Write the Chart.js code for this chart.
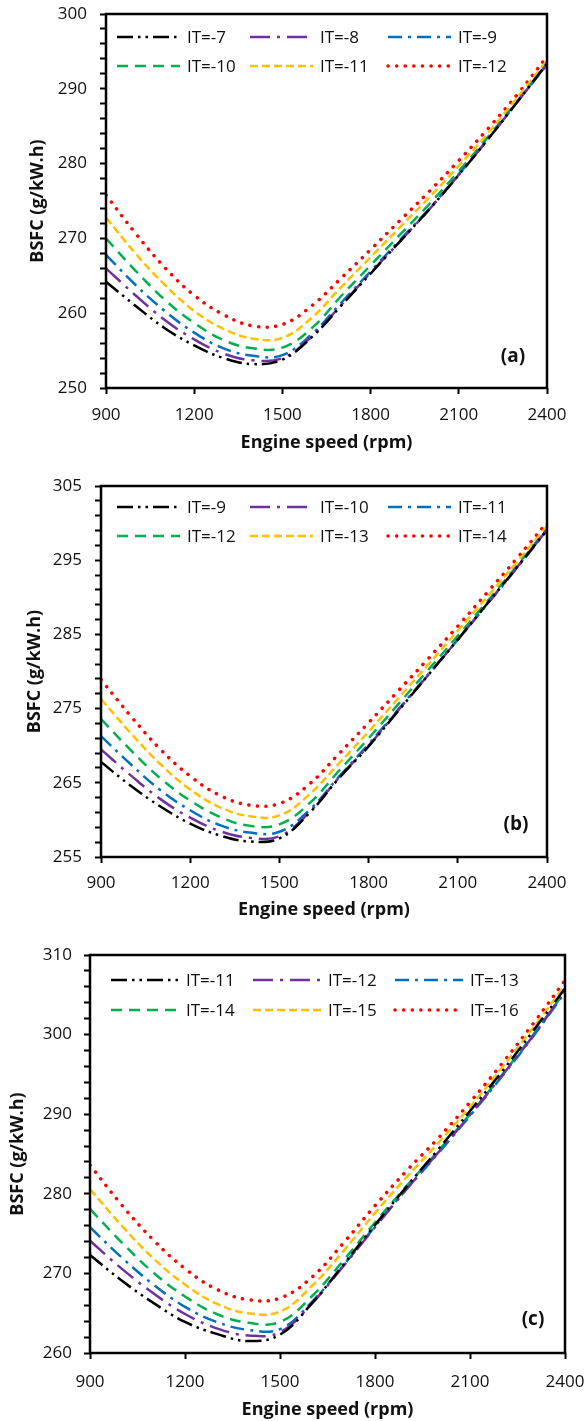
<!DOCTYPE html>
<html lang="en">
<head>
<meta charset="utf-8">
<title>BSFC vs engine speed</title>
<script src="https://cdn.jsdelivr.net/npm/chart.js@4.4.1/dist/chart.umd.min.js"></script>
<style>
  body { margin: 0; background: #fff; }
  .panel { position: absolute; left: 0; }
  #pa { top: 0; }
  #pb { top: 470px; }
  #pc { top: 940px; }
</style>
</head>
<body>
<canvas id="pa" class="panel" width="588" height="460"></canvas>
<canvas id="pb" class="panel" width="588" height="460"></canvas>
<canvas id="pc" class="panel" width="588" height="481"></canvas>
<script>
// engine speed (rpm), same for all panels
const rpm = [900, 1000, 1100, 1200, 1300, 1400, 1500, 1600, 1700, 1800, 1900, 2000, 2100, 2200, 2300, 2400];

// panel (a) - BSFC g/kW.h
const labelsA = ['IT=-7', 'IT=-8', 'IT=-9', 'IT=-10', 'IT=-11', 'IT=-12'];
const a7  = [264.2, 261.0, 258.0, 255.7, 254.0, 253.2, 253.8, 256.8, 261.0, 265.3, 269.6, 273.9, 278.5, 283.3, 288.3, 293.4];
const a8  = [266.0, 262.4, 259.1, 256.5, 254.6, 253.7, 254.0, 256.9, 261.1, 265.4, 269.6, 273.9, 278.5, 283.3, 288.3, 293.3];
const a9  = [267.8, 263.8, 260.3, 257.4, 255.3, 254.3, 254.4, 257.2, 261.4, 265.6, 269.8, 274.0, 278.6, 283.3, 288.3, 293.2];
const a10 = [270.0, 265.7, 261.8, 258.7, 256.4, 255.3, 255.4, 258.0, 262.3, 266.4, 270.5, 274.6, 279.0, 283.6, 288.4, 293.3];
const a11 = [272.8, 268.0, 263.8, 260.3, 257.9, 256.6, 256.7, 259.4, 263.5, 267.5, 271.5, 275.5, 279.7, 284.1, 288.9, 293.8];
const a12 = [275.8, 270.7, 266.1, 262.4, 259.8, 258.3, 258.5, 261.0, 264.7, 268.5, 272.4, 276.3, 280.4, 284.7, 289.3, 294.3];

// panel (b)
const labelsB = ['IT=-9', 'IT=-10', 'IT=-11', 'IT=-12', 'IT=-13', 'IT=-14'];
const b9  = [267.8, 264.6, 261.8, 259.5, 257.9, 257.1, 257.5, 260.9, 265.6, 269.9, 274.7, 279.5, 284.3, 289.2, 294.1, 299.1];
const b10 = [269.5, 266.0, 262.8, 260.3, 258.5, 257.6, 257.8, 261.0, 265.7, 270.0, 274.8, 279.5, 284.3, 289.2, 294.1, 299.1];
const b11 = [271.3, 267.5, 264.0, 261.3, 259.3, 258.3, 258.4, 261.3, 265.8, 270.2, 274.9, 279.6, 284.3, 289.1, 294.0, 299.0];
const b12 = [273.6, 269.4, 265.6, 262.6, 260.4, 259.2, 259.4, 262.2, 266.6, 271.0, 275.6, 280.2, 284.8, 289.5, 294.3, 299.2];
const b13 = [276.3, 271.7, 267.5, 264.1, 261.7, 260.5, 260.6, 263.4, 267.6, 271.9, 276.4, 280.9, 285.5, 290.1, 294.8, 299.6];
const b14 = [278.9, 274.0, 269.5, 265.9, 263.3, 262.0, 262.2, 264.8, 268.9, 273.1, 277.4, 281.7, 286.1, 290.7, 295.3, 300.1];

// panel (c)
const labelsC = ['IT=-11', 'IT=-12', 'IT=-13', 'IT=-14', 'IT=-15', 'IT=-16'];
const c11 = [272.3, 269.1, 266.3, 263.9, 262.4, 261.5, 262.3, 266.2, 271.1, 276.1, 280.9, 285.6, 290.4, 295.3, 300.5, 305.8];
const c12 = [274.1, 270.6, 267.5, 264.9, 263.1, 262.2, 262.6, 266.2, 270.9, 275.8, 280.6, 285.2, 289.9, 294.8, 299.9, 305.5];
const c13 = [275.8, 272.0, 268.6, 265.8, 263.9, 262.9, 263.0, 266.4, 271.0, 275.9, 280.6, 285.1, 289.8, 294.7, 299.8, 305.3];
const c14 = [278.1, 273.9, 270.1, 267.1, 264.9, 263.8, 263.9, 267.1, 271.6, 276.4, 281.0, 285.4, 290.0, 294.9, 300.0, 305.4];
const c15 = [280.6, 276.0, 271.9, 268.6, 266.2, 265.0, 265.2, 268.4, 272.8, 277.6, 282.1, 286.4, 290.9, 295.8, 300.9, 306.2];
const c16 = [283.6, 278.6, 274.2, 270.6, 268.0, 266.7, 266.9, 269.5, 273.8, 278.5, 282.9, 287.0, 291.5, 296.3, 301.4, 306.8];

// line look, same order in every panel
const colors = ['#000000', '#7030A0', '#0070C0', '#00B050', '#FFC000', '#FF0000'];
const dashes = [[16, 5, 2.5, 5, 2.5, 5], [20, 7, 3, 7], [14, 6, 3, 6], [11, 7], [8, 4], [0.1, 8.5]];

Chart.defaults.font.family = "'Open Sans', sans-serif";
Chart.defaults.color = '#111';

function panel(id, labels, series, yMin, yMax, lay) {
    const datasets = series.map((vals, i) => ({
        label: labels[i],
        data: vals.map((v, k) => ({ x: rpm[k], y: v })),
        borderColor: colors[i],
        borderWidth: i === 5 ? 3.5 : 2.5,
        borderDash: dashes[i],
        borderCapStyle: i === 5 ? 'round' : 'butt',
        pointRadius: 0,
        tension: 0.4,
        fill: false
    }));

    // legend boxes, plot frame and the (a)/(b)/(c) tag
    const deco = {
        id: 'deco',
        afterDraw(chart) {
            const ctx = chart.ctx;
            const area = chart.chartArea;
            ctx.save();
            chart.data.datasets.forEach((d, i) => {
                const x0 = lay.cols[i % 3], y = lay.rows[Math.floor(i / 3)];
                ctx.beginPath();
                ctx.setLineDash(d.borderDash);
                ctx.lineCap = d.borderCapStyle;
                ctx.lineWidth = d.borderWidth;
                ctx.strokeStyle = d.borderColor;
                ctx.moveTo(x0, y);
                ctx.lineTo(x0 + lay.sample, y);
                ctx.stroke();
                ctx.setLineDash([]);
                ctx.fillStyle = '#111';
                ctx.font = "17px 'Open Sans'";
                ctx.textBaseline = 'middle';
                ctx.textAlign = 'left';
                ctx.fillText(d.label, x0 + lay.sample + 7, y + 1);
            });
            ctx.lineCap = 'butt';
            ctx.lineWidth = 2.5;
            ctx.strokeStyle = '#000';
            ctx.strokeRect(area.left, area.top, area.right - area.left, area.bottom - area.top);
            ctx.font = "bold 19px 'Open Sans'";
            ctx.textAlign = 'center';
            ctx.fillStyle = '#111';
            ctx.fillText(lay.tag, lay.tagX, lay.tagY);
            ctx.restore();
        }
    };

    new Chart(document.getElementById(id), {
        type: 'line',
        data: { datasets: datasets },
        options: {
            responsive: false,
            animation: false,
            devicePixelRatio: 1,
            layout: { padding: { top: lay.top, right: lay.right, left: 0, bottom: 0 } },
            plugins: { legend: { display: false }, tooltip: { enabled: false } },
            scales: {
                x: {
                    type: 'linear', min: 900, max: 2400,
                    ticks: { stepSize: 300, padding: lay.xPad, font: { size: 17 }, callback: v => String(v) },
                    grid: { drawOnChartArea: false, tickLength: 6, tickWidth: 2, tickColor: '#000' },
                    border: { display: false },
                    title: { display: true, text: 'Engine speed (rpm)', font: { size: 18, weight: 'bold' }, padding: { top: 0, bottom: lay.xTitle } },
                    afterFit: s => { s.height = lay.xH; s.paddingLeft = 0; s.paddingRight = 0; }
                },
                y: {
                    min: yMin, max: yMax,
                    ticks: { stepSize: 2, autoSkip: false, padding: lay.yPad, font: { size: 17 },
                        callback: v => ((v - yMin) % 10 === 0 ? String(v) : '') },
                    grid: { drawOnChartArea: false, tickLength: 6, tickWidth: 2, tickColor: '#000' },
                    border: { display: false },
                    title: { display: true, text: 'BSFC (g/kW.h)', font: { size: 18, weight: 'bold' }, padding: { top: lay.yTitle, bottom: 0 } },
                    afterFit: s => { s.width = lay.left; s.paddingTop = 0; s.paddingBottom = 0; }
                }
            }
        },
        plugins: [deco]
    });
}

panel('pa', labelsA, [a7, a8, a9, a10, a11, a12], 250, 300, {
    top: 14, right: 41, left: 106, xH: 72, xPad: 11, yPad: 13, xTitle: 6, yTitle: 27,
    cols: [117, 250, 388], rows: [37, 66], sample: 63, tag: '(a)', tagX: 513, tagY: 357
});
panel('pb', labelsB, [b9, b10, b11, b12, b13, b14], 255, 305, {
    top: 16, right: 41, left: 101, xH: 73, xPad: 10, yPad: 13, xTitle: 9, yTitle: 24,
    cols: [117, 250, 388], rows: [37, 66], sample: 63, tag: '(b)', tagX: 516, tagY: 355
});
panel('pc', labelsC, [c11, c12, c13, c14, c15, c16], 260, 310, {
    top: 15, right: 23, left: 90, xH: 68, xPad: 13, yPad: 12, xTitle: 0, yTitle: 7,
    cols: [111, 253, 395], rows: [40, 70], sample: 68, tag: '(c)', tagX: 533, tagY: 380
});
</script>
</body>
</html>
